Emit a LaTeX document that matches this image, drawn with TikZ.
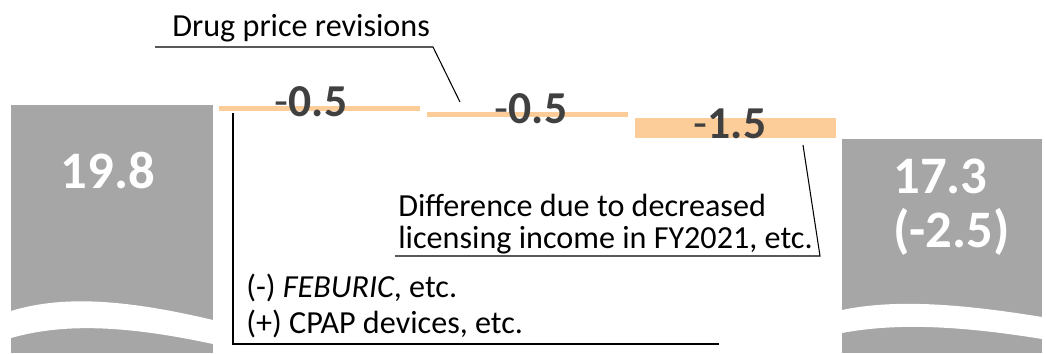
\documentclass[tikz,border=0pt]{standalone}
\usepackage{fontspec}
\setmainfont{Carlito}
\usetikzlibrary{positioning}
\definecolor{bargray}{RGB}{166,166,166}
\definecolor{peach}{RGB}{252,204,153}
\definecolor{numgray}{RGB}{64,64,64}
\tikzset{
  total/.style={fill=bargray,draw=none},
  gap/.style={fill=white,draw=none},
  delta/.style={fill=peach,draw=none,inner sep=0pt,anchor=north west,minimum width=4.02cm},
  amount/.style={font=\fontsize{26}{28}\selectfont\bfseries,text=numgray,inner sep=0pt},
  sum/.style={font=\fontsize{30}{31}\selectfont\bfseries,text=white,inner sep=0pt,align=left},
  note/.style={font=\fontsize{18.3}{18}\selectfont,align=left,inner sep=0pt},
  callout/.style={draw=black,line width=0.6pt}
}
\newcommand{\lessby}[1]{{\mdseries-}#1}
\begin{document}
\begin{tikzpicture}[x=0.02cm,y=-0.02cm]
  \useasboundingbox (0,0) rectangle (1046,353);
  % totals, FY start and FY end
  \fill[total] (11,105) rectangle (213,353);
  \fill[gap] (11,311) .. controls (60,296) and (120,298) .. (213,320)
    -- (213,344) .. controls (120,324) and (60,324) .. (11,338) -- cycle;
  \fill[total] (842,139) rectangle (1042,353);
  \fill[gap] (842,310) .. controls (890,300) and (950,302) .. (1042,317)
    -- (1042,339) .. controls (950,324) and (890,324) .. (842,333) -- cycle;
  \node[sum] (start) at (108,170) {19.8};
  \node[sum,anchor=west] (finish) at (893,207) {17.3\\(-2.5)};
  % changes
  \node[delta,minimum height=0.10cm] (step1) at (219,106) {};
  \node[delta,minimum height=0.10cm] (step2) at (427,112) {};
  \node[delta,minimum height=0.40cm] (step3) at (635,118) {};
  \node[amount] (val1) at (311,102) {\lessby{0.5}};
  \node[amount] (val2) at (531,109) {\lessby{0.5}};
  \node[amount] (val3) at (730,124) {\lessby{1.5}};
  % callouts
  \node[note,anchor=base west] (drug) at (172,36) {Drug price revisions};
  \node[note,anchor=base west] (lic) at (398,248) {Difference due to decreased\\licensing income in FY2021, etc.};
  \node[note,anchor=base west,font=\fontsize{18.3}{20}\selectfont] (feb) at (246,333) {(-) \textit{FEBURIC}, etc.\\(+) CPAP devices, etc.};
  \coordinate (drugtip) at (460,102);
  \coordinate (lictip) at (803,145);
  \coordinate (febtip) at (233,113);
  \draw[callout] (drug.base west) ++(-17,11) -- (433,47) -- (drugtip);
  \draw[callout] (lic.base west) ++(-3,8) -- (820,256) -- (lictip);
  \draw[callout] (febtip) -- (233,344) -- (719,344);
\end{tikzpicture}
\end{document}
